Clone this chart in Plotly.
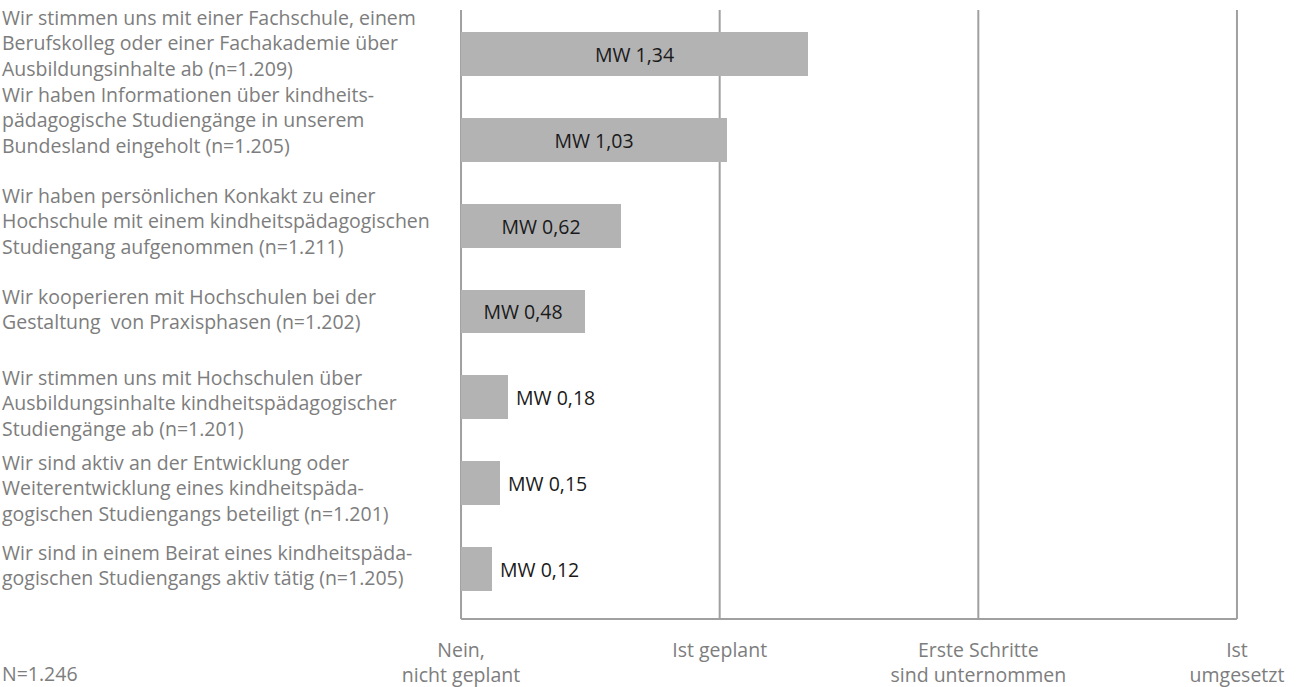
import plotly.graph_objects as go

# Survey items (top to bottom), one list entry per printed line
items = [
    ["Wir stimmen uns mit einer Fachschule, einem",
     "Berufskolleg oder einer Fachakademie über",
     "Ausbildungsinhalte ab (n=1.209)"],
    ["Wir haben Informationen über kindheits-",
     "pädagogische Studiengänge in unserem",
     "Bundesland eingeholt (n=1.205)"],
    ["Wir haben persönlichen Konkakt zu einer",
     "Hochschule mit einem kindheitspädagogischen",
     "Studiengang aufgenommen (n=1.211)"],
    ["Wir kooperieren mit Hochschulen bei der",
     "Gestaltung  von Praxisphasen (n=1.202)"],
    ["Wir stimmen uns mit Hochschulen über",
     "Ausbildungsinhalte kindheitspädagogischer",
     "Studiengänge ab (n=1.201)"],
    ["Wir sind aktiv an der Entwicklung oder",
     "Weiterentwicklung eines kindheitspäda-",
     "gogischen Studiengangs beteiligt (n=1.201)"],
    ["Wir sind in einem Beirat eines kindheitspäda-",
     "gogischen Studiengangs aktiv tätig (n=1.205)"],
]
# mean values (MW) on the 0-3 scale
means = [1.34, 1.03, 0.62, 0.48, 0.18, 0.15, 0.12]
scale_values = [0, 1, 2, 3]
scale_labels = ["Nein,<br>nicht geplant", "Ist geplant",
                "Erste Schritte<br>sind unternommen", "Ist<br>umgesetzt"]
total_n = "N=1.246"

FONT = "Open Sans"
GRAY_TEXT = "#7d7d7d"
GRID = "#a0a0a0"
FS = 19.5

positions = list(range(len(items)))
bar_text = ["MW " + f"{v:.2f}".replace(".", ",") for v in means]
text_pos = ["inside" if v >= 0.4 else "outside" for v in means]
bar_text = [t if p == "inside" else " " + t for t, p in zip(bar_text, text_pos)]

fig = go.Figure(go.Bar(
    x=means, y=positions, orientation="h",
    marker=dict(color="#b3b3b4", line=dict(width=0)),
    width=0.51,
    text=bar_text, textposition=text_pos,
    insidetextanchor="middle",
    textfont=dict(family=FONT, size=FS, color="#1a1a1a"),
    cliponaxis=False,
    hoverinfo="skip",
))

L, R, T, B = 460, 59, 10, 68
W, H = 1297, 687
plot_w = W - L - R
plot_h = H - T - B

# vertical offset (px) of each item text block relative to its bar centre
block_shift = [11, 20, 5, 2, -6, -5, 4]
for pos, lines, dy in zip(positions, items, block_shift):
    fig.add_annotation(
        x=-L / plot_w, xref="paper", y=pos, yref="y",
        text="<br>".join(lines), showarrow=False,
        xanchor="left", yanchor="middle", align="left", yshift=dy,
        font=dict(family=FONT, size=FS, color=GRAY_TEXT),
    )

fig.add_annotation(
    x=-L / plot_w, xref="paper", y=-(673 - (H - B)) / plot_h, yref="paper",
    text=total_n, showarrow=False, xanchor="left", yanchor="middle",
    font=dict(family=FONT, size=FS, color=GRAY_TEXT),
)

# scale lines at every answer category plus the baseline
for v in scale_values:
    fig.add_shape(type="line", xref="x", yref="paper", x0=v, x1=v, y0=0, y1=1,
                  line=dict(color=GRID, width=2), layer="below")
fig.add_shape(type="line", xref="x", yref="paper", x0=scale_values[0],
              x1=scale_values[-1], y0=0, y1=0,
              line=dict(color=GRID, width=2), layer="below")

fig.update_layout(
    width=W, height=H,
    margin=dict(l=L, r=R, t=T, b=B, autoexpand=False),
    paper_bgcolor="white", plot_bgcolor="white",
    showlegend=False,
    bargap=0,
    xaxis=dict(
        range=[-0.004, 3.004], tickvals=scale_values, ticktext=scale_labels,
        showgrid=False, showline=False, zeroline=False,
        ticks="", ticklabelstandoff=17, automargin=False,
        tickfont=dict(family=FONT, size=FS, color=GRAY_TEXT),
        fixedrange=True,
    ),
    yaxis=dict(
        range=[6.58, -0.51], showticklabels=False, showgrid=False,
        zeroline=False, showline=False, fixedrange=True, automargin=False,
    ),
)

fig.write_html("out.html")
